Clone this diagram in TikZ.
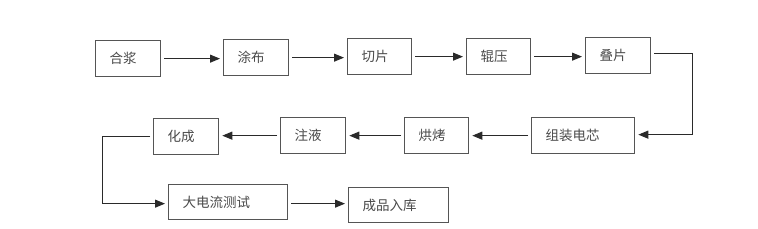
\documentclass[tikz,border=0pt]{standalone}
\usepackage{fontspec}
\newfontfamily\cjk{Noto Sans CJK SC}
\usetikzlibrary{arrows.meta}
\definecolor{boxline}{HTML}{555555}
\definecolor{txt}{HTML}{4A4A4A}
\definecolor{arr}{HTML}{2A2A2A}
\begin{document}
\begin{tikzpicture}[x=1pt,y=1pt,
  box/.style={draw=boxline, line width=1.3pt, inner xsep=14pt, inner ysep=0pt,
    minimum height=36pt, align=left, anchor=north west, text=txt,
    font=\cjk\fontsize{13.5}{15}\selectfont},
  conn/.style={draw=arr, line width=1pt, -{Triangle[length=10pt,width=8pt]}, shorten <=3pt, shorten >=3pt}]
\useasboundingbox (0,0) rectangle (758,-229);
\fill[white] (0,0) rectangle (758,-229);
% top row
\node[box, text width=37pt] (hj) at (95,-40) {合浆};
\node[box, text width=37pt] (tb) at (223,-39) {涂布};
\node[box, text width=36pt] (qp) at (347,-38) {切片};
\node[box, text width=36pt] (gy) at (466,-38) {辊压};
\node[box, text width=37pt] (dp) at (585,-37) {叠片};
% second row
\node[box, text width=75pt] (zz) at (531,-117) {组装电芯};
\node[box, text width=36pt] (hk) at (404,-117) {烘烤};
\node[box, text width=37pt] (zy) at (280,-117) {注液};
\node[box, text width=37pt] (hc) at (153,-118) {化成};
% third row
\node[box, text width=91pt, minimum height=35pt] (dd) at (168,-184) {大电流测试};
\node[box, text width=72pt, minimum height=35pt] (cp) at (348,-187) {成品入库};
% connectors
\draw[conn] (hj.east) -- (hj.east -| tb.west);
\draw[conn] (tb.east) -- (tb.east -| qp.west);
\draw[conn] (qp.east) -- (qp.east -| gy.west);
\draw[conn] (gy.east) -- (gy.east -| dp.west);
\draw[conn] ([yshift=2pt]dp.east) -- ++(41,0) |- ([yshift=1pt]zz.east);
\draw[conn] (zz.west) -- (zz.west -| hk.east);
\draw[conn] (hk.west) -- (hk.west -| zy.east);
\draw[conn] (zy.west) -- (zy.west -| hc.east);
\draw[conn] (hc.west) -- ++(-51,0) |- ([yshift=-1.5pt]dd.west);
\draw[conn] ([yshift=-1.5pt]dd.east) -- ([yshift=-1.5pt]dd.east -| cp.west);
\end{tikzpicture}
\end{document}
